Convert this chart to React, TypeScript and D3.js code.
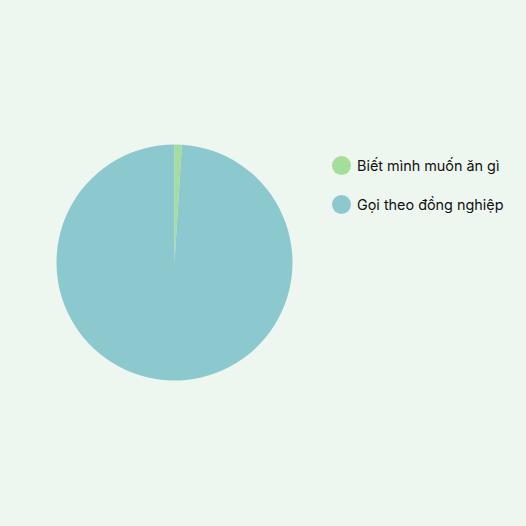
import React from 'react';
import * as d3 from 'd3';

const labels = ['Biết mình muốn ăn gì', 'Gọi theo đồng nghiệp'];
const values = [1, 99];
const colors = ['#a5dd9b', '#8cc9cf'];

const W = 526;
const H = 526;

export default function App() {
  const cx = 174.5;
  const cy = 262.5;
  const r = 118;

  const pie = d3.pie<number>().sort(null).value(d => d);
  const arc = d3.arc<d3.PieArcDatum<number>>().innerRadius(0).outerRadius(r);
  const arcs = pie(values);

  const legendY = d3.scaleBand<string>().domain(labels).range([146, 224]);

  return (
    <div style={{ position: 'fixed', left: 0, top: 0, width: W, height: H }}>
      <svg width={W} height={H} style={{ display: 'block', background: '#eef7ef' }}>
        <g transform={`translate(${cx},${cy})`}>
          {arcs.map((a, i) => (
            <path key={i} d={arc(a) || ''} fill={colors[i]} />
          ))}
        </g>
        <g fontFamily="Inter, 'Noto Sans', sans-serif" fontSize={14.4} fill="#111">
          {labels.map((l, i) => {
            const y = (legendY(l) || 0) + legendY.bandwidth() / 2;
            return (
              <g key={l}>
                <circle cx={341.5} cy={y} r={9.5} fill={colors[i]} />
                <text x={357} y={y} dominantBaseline="central">{l}</text>
              </g>
            );
          })}
        </g>
      </svg>
    </div>
  );
}
